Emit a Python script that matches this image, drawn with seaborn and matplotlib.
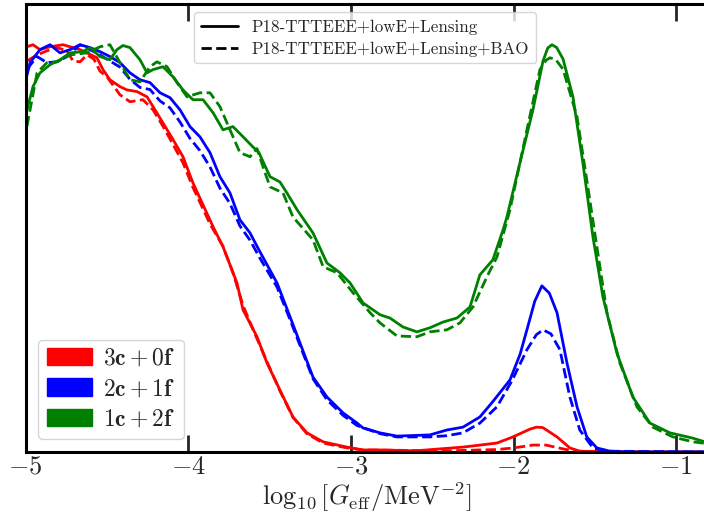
import numpy as np
import pandas as pd
import matplotlib
matplotlib.use("Agg")
import matplotlib.pyplot as plt
import seaborn as sns
from matplotlib.lines import Line2D
from matplotlib.patches import Patch

# ---------------- data ----------------
red_solid_x = [-4.991, -4.954, -4.911, -4.849, -4.770, -4.726, -4.665, -4.622, -4.561, -4.524,
               -4.481, -4.419, -4.376, -4.315, -4.253, -4.216, -4.155, -4.093, -4.032, -3.971,
               -3.847, -3.786, -3.700, -3.663, -3.577, -3.516, -3.436, -3.356, -3.270, -3.171,
               -3.024, -2.925, -2.821, -2.600, -2.311, -2.102, -2.004, -1.900, -1.860, -1.820,
               -1.733, -1.654, -1.593, -1.400, -0.800]
red_solid_y = [0.995, 1.000, 0.988, 0.995, 1.000, 0.995, 0.988, 0.980, 0.968, 0.939,
               0.914, 0.897, 0.889, 0.885, 0.872, 0.848, 0.808, 0.767, 0.725, 0.661,
               0.553, 0.504, 0.415, 0.349, 0.283, 0.219, 0.152, 0.086, 0.047, 0.025,
               0.012, 0.005, 0.005, 0.003, 0.012, 0.022, 0.037, 0.056, 0.061, 0.060,
               0.037, 0.010, 0.002, 0.000, 0.000]

red_dash_x = [-4.991, -4.929, -4.868, -4.806, -4.745, -4.708, -4.665, -4.622, -4.580, -4.542,
              -4.499, -4.419, -4.358, -4.278, -4.216, -4.155, -4.093, -4.032, -3.971, -3.866,
              -3.786, -3.725, -3.663, -3.590, -3.516, -3.436, -3.356, -3.270, -3.171, -3.024,
              -2.925, -2.400, -2.102, -2.000, -1.880, -1.800, -1.700, -1.620, -1.400, -0.800]
red_dash_y = [0.960, 0.975, 0.985, 0.993, 0.985, 0.960, 0.958, 0.975, 0.965, 0.935,
              0.921, 0.877, 0.860, 0.865, 0.840, 0.800, 0.755, 0.710, 0.650, 0.560,
              0.505, 0.440, 0.360, 0.290, 0.222, 0.150, 0.085, 0.045, 0.022, 0.010,
              0.005, 0.003, 0.006, 0.010, 0.017, 0.017, 0.008, 0.002, 0.000, 0.000]

blue_solid_x = [-4.991, -4.972, -4.911, -4.849, -4.788, -4.726, -4.665, -4.604, -4.542, -4.481,
                -4.419, -4.358, -4.296, -4.235, -4.173, -4.112, -4.050, -3.989, -3.928, -3.866,
                -3.805, -3.743, -3.682, -3.620, -3.565, -3.454, -3.374, -3.313, -3.233, -3.147,
                -3.048, -2.962, -2.925, -2.821, -2.717, -2.514, -2.410, -2.311, -2.207, -2.127,
                -2.022, -1.960, -1.918, -1.870, -1.826, -1.780, -1.733, -1.672, -1.610, -1.550,
                -1.488, -1.408, -1.300, -0.800]
blue_solid_y = [0.925, 0.956, 0.988, 1.000, 0.980, 0.988, 1.000, 0.993, 0.983, 0.971,
                0.956, 0.931, 0.914, 0.907, 0.882, 0.870, 0.840, 0.799, 0.774, 0.735,
                0.676, 0.636, 0.570, 0.538, 0.496, 0.415, 0.332, 0.268, 0.184, 0.135,
                0.096, 0.071, 0.059, 0.047, 0.039, 0.042, 0.054, 0.061, 0.086, 0.124,
                0.177, 0.240, 0.300, 0.370, 0.408, 0.390, 0.342, 0.219, 0.111, 0.037,
                0.010, 0.002, 0.000, 0.000]

blue_dash_x = [-4.991, -4.929, -4.868, -4.806, -4.745, -4.665, -4.604, -4.542, -4.481, -4.419,
               -4.358, -4.296, -4.235, -4.173, -4.112, -4.050, -3.989, -3.928, -3.866, -3.805,
               -3.743, -3.682, -3.620, -3.565, -3.454, -3.374, -3.313, -3.233, -3.147, -3.048,
               -2.962, -2.821, -2.717, -2.514, -2.410, -2.311, -2.207, -2.102, -2.010, -1.918,
               -1.860, -1.819, -1.770, -1.715, -1.654, -1.593, -1.512, -1.430, -0.800]
blue_dash_y = [0.940, 0.971, 0.956, 0.958, 0.971, 1.000, 0.988, 0.975, 0.960, 0.945,
               0.915, 0.895, 0.890, 0.862, 0.845, 0.810, 0.770, 0.740, 0.700, 0.648,
               0.610, 0.555, 0.520, 0.480, 0.405, 0.325, 0.262, 0.180, 0.128, 0.090,
               0.065, 0.045, 0.037, 0.037, 0.040, 0.047, 0.071, 0.111, 0.175, 0.251,
               0.288, 0.300, 0.290, 0.251, 0.135, 0.054, 0.010, 0.002, 0.000]

green_solid_x = [-4.991, -4.954, -4.911, -4.849, -4.788, -4.726, -4.647, -4.604, -4.542, -4.481,
                 -4.438, -4.401, -4.358, -4.296, -4.253, -4.216, -4.155, -4.093, -4.032, -3.971,
                 -3.909, -3.847, -3.786, -3.725, -3.663, -3.602, -3.565, -3.497, -3.436, -3.393,
                 -3.331, -3.233, -3.147, -3.067, -3.005, -2.925, -2.821, -2.760, -2.680, -2.594,
                 -2.514, -2.434, -2.348, -2.268, -2.207, -2.127, -2.065, -2.041, -1.961, -1.881,
                 -1.819, -1.790, -1.764, -1.735, -1.696, -1.635, -1.574, -1.512, -1.451, -1.365,
                 -1.267, -1.162, -1.039, -0.898, -0.800]
green_solid_y = [0.840, 0.897, 0.931, 0.951, 0.963, 0.980, 0.983, 0.993, 0.971, 0.963,
                 0.988, 0.998, 0.993, 0.963, 0.931, 0.939, 0.946, 0.921, 0.889, 0.865,
                 0.865, 0.833, 0.791, 0.799, 0.774, 0.749, 0.735, 0.676, 0.663, 0.636,
                 0.595, 0.538, 0.464, 0.440, 0.415, 0.366, 0.337, 0.329, 0.307, 0.295,
                 0.305, 0.319, 0.329, 0.356, 0.435, 0.472, 0.545, 0.577, 0.710, 0.840,
                 0.960, 0.992, 1.000, 0.993, 0.965, 0.872, 0.710, 0.528, 0.381, 0.243,
                 0.135, 0.071, 0.047, 0.034, 0.022]

green_dash_x = [-4.991, -4.929, -4.868, -4.806, -4.726, -4.622, -4.542, -4.481, -4.419, -4.358,
                -4.296, -4.235, -4.192, -4.130, -4.069, -4.007, -3.928, -3.866, -3.805, -3.743,
                -3.682, -3.620, -3.577, -3.540, -3.497, -3.417, -3.356, -3.233, -3.171, -3.085,
                -2.987, -2.882, -2.821, -2.717, -2.594, -2.514, -2.410, -2.330, -2.250, -2.164,
                -2.102, -2.022, -1.918, -1.838, -1.800, -1.776, -1.740, -1.696, -1.610, -1.550,
                -1.488, -1.426, -1.347, -1.242, -1.144, -1.021, -0.898, -0.800]
green_dash_y = [0.800, 0.931, 0.956, 0.958, 0.975, 0.980, 0.995, 1.000, 0.956, 0.914,
                0.909, 0.946, 0.958, 0.946, 0.907, 0.872, 0.882, 0.882, 0.848, 0.791,
                0.735, 0.725, 0.745, 0.700, 0.651, 0.636, 0.577, 0.521, 0.455, 0.440,
                0.391, 0.342, 0.317, 0.285, 0.283, 0.295, 0.300, 0.317, 0.356, 0.430,
                0.479, 0.595, 0.791, 0.939, 0.962, 0.968, 0.963, 0.940, 0.823, 0.668,
                0.504, 0.342, 0.219, 0.111, 0.061, 0.037, 0.025, 0.020]

config_labels = [r"$\mathbf{3c + 0f}$", r"$\mathbf{2c + 1f}$", r"$\mathbf{1c + 2f}$"]
config_colors = ["red", "blue", "green"]
dataset_labels = ["P18-TTTEEE+lowE+Lensing", "P18-TTTEEE+lowE+Lensing+BAO"]
xticks = [-5, -4, -3, -2, -1]

# ---------------- build long table ----------------
series = [
    (config_labels[0], dataset_labels[0], red_solid_x, red_solid_y),
    (config_labels[0], dataset_labels[1], red_dash_x, red_dash_y),
    (config_labels[1], dataset_labels[0], blue_solid_x, blue_solid_y),
    (config_labels[1], dataset_labels[1], blue_dash_x, blue_dash_y),
    (config_labels[2], dataset_labels[0], green_solid_x, green_solid_y),
    (config_labels[2], dataset_labels[1], green_dash_x, green_dash_y),
]
frames = []
for cfg, ds, xs, ys in series:
    frames.append(pd.DataFrame({"x": xs, "y": ys, "config": cfg, "dataset": ds}))
df = pd.concat(frames, ignore_index=True)

# ---------------- style ----------------
sns.set_style("white")
plt.rcParams["font.family"] = ["cmr10", "DejaVu Serif"]
plt.rcParams["mathtext.fontset"] = "cm"
plt.rcParams["axes.formatter.use_mathtext"] = True
plt.rcParams["axes.unicode_minus"] = True

fig = plt.figure(figsize=(7.04, 5.16), dpi=100)
ax = fig.add_axes([25.5 / 704, 64 / 516, 683.3 / 704, 448 / 516])

sns.lineplot(data=df, x="x", y="y", hue="config", style="dataset",
             hue_order=config_labels, style_order=dataset_labels,
             palette=dict(zip(config_labels, config_colors)),
             dashes={dataset_labels[0]: "", dataset_labels[1]: (3.7, 1.6)},
             estimator=None, sort=False, linewidth=2, legend=False, ax=ax)

ax.set_xlim(-5, -0.8)
ax.set_ylim(0, 1.1)
ax.set_xticks(xticks)
ax.set_yticks([])
ax.set_ylabel("")
ax.set_xlabel(r"$\log_{10}[G_{\rm eff}/{\rm MeV}^{-2}]$", fontsize=19, labelpad=1)
ax.tick_params(axis="x", which="major", direction="in", length=12, width=2,
               top=True, bottom=True, labelsize=19, pad=2)
for s in ax.spines.values():
    s.set_linewidth(2.2)
    s.set_color("black")

# legends
style_handles = [Line2D([0], [0], color="black", lw=2, ls="-"),
                 Line2D([0], [0], color="black", lw=2, ls=(0, (3.7, 1.6)))]
leg1 = ax.legend(style_handles, dataset_labels, loc="upper center",
                 bbox_to_anchor=(0.497, 1.0),
                 fontsize=12.2, handlelength=2.2, borderaxespad=0.5,
                 labelspacing=0.4, frameon=True)
ax.add_artist(leg1)

patch_handles = [Patch(facecolor=c, edgecolor=c) for c in config_colors]
ax.legend(patch_handles, config_labels, loc="lower left", fontsize=17,
          handlelength=1.9, handleheight=0.75, borderaxespad=0.55,
          labelspacing=0.35, handletextpad=0.5, borderpad=0.35, frameon=True)

fig.savefig("out.png", dpi=100)
